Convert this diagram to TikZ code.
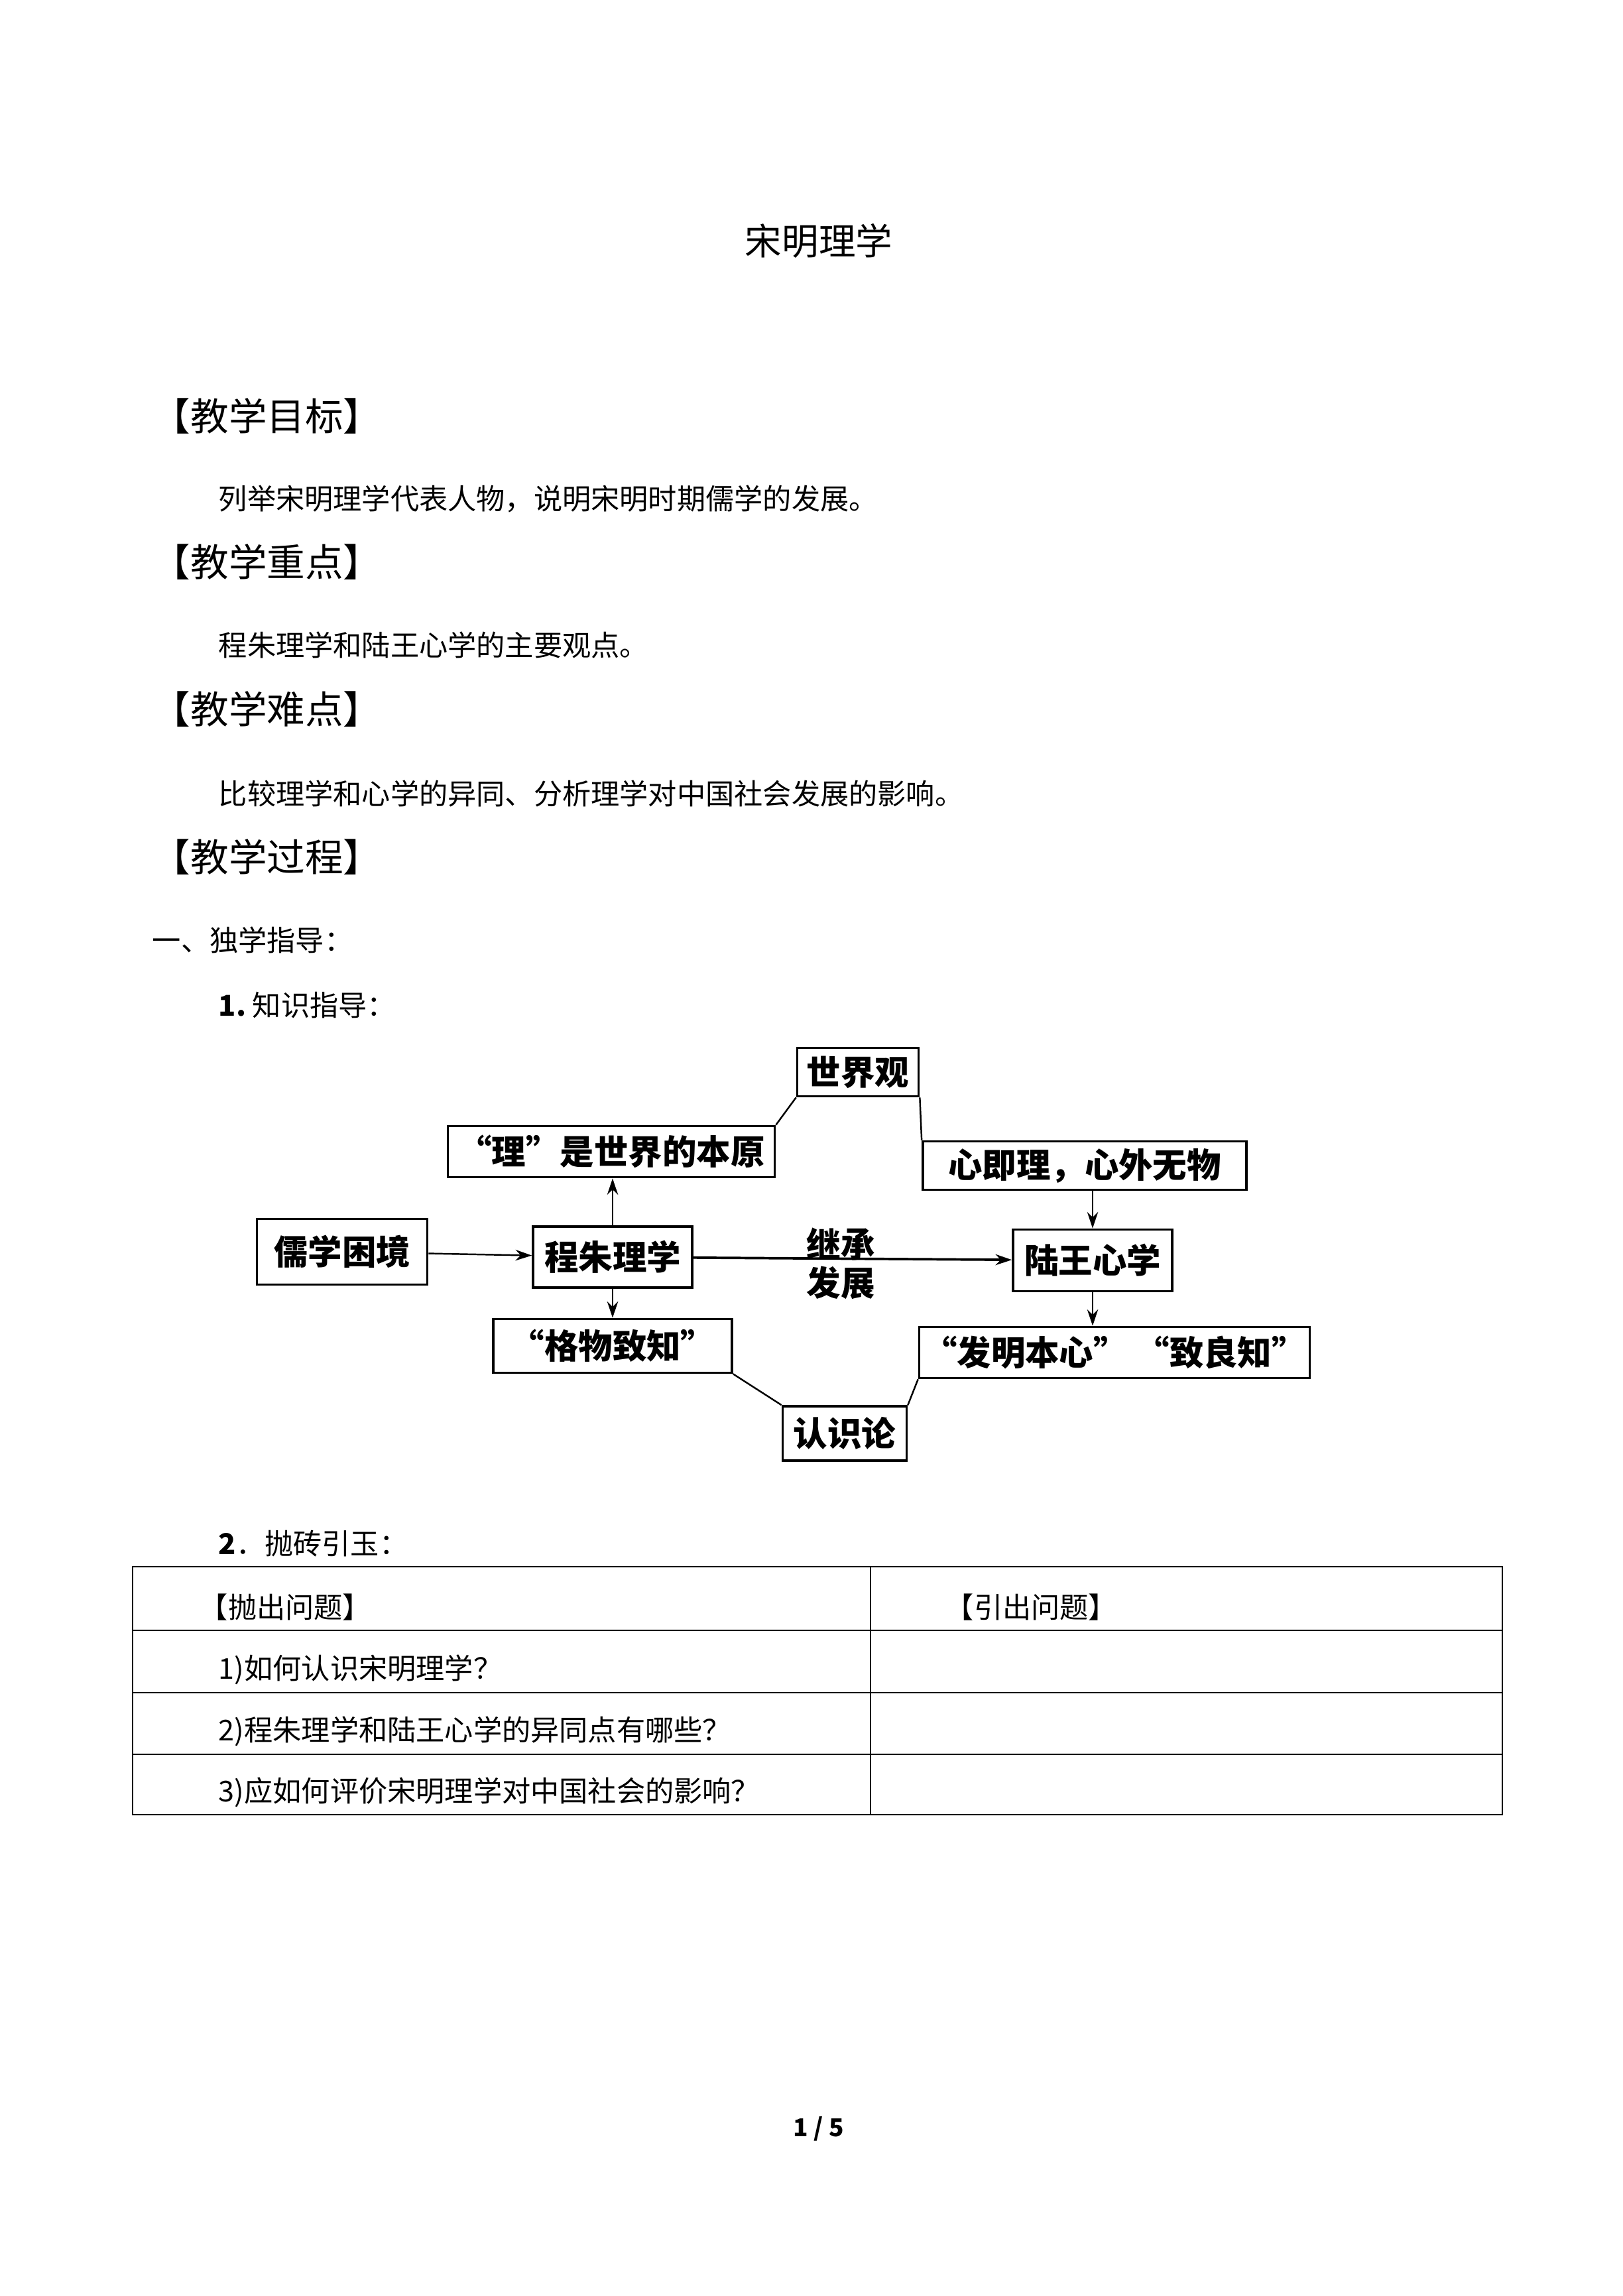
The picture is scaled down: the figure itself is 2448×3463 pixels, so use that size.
\documentclass[tikz,border=0pt]{standalone}
\usepackage{fontspec}
\setmainfont{Noto Sans CJK SC}
\usepackage{tikz}
\usetikzlibrary{arrows.meta}
\def\u{0.243pt}
\begin{document}
\begin{tikzpicture}[x=0.243pt,y=-0.243pt,
  bx/.style={draw,line width=0.9pt,inner sep=0pt,font=\fontsize{12.5}{14}\selectfont\bfseries},
  body/.style={anchor=west,inner sep=0pt,font=\fontsize{10.5}{12}\selectfont},
  head/.style={anchor=west,inner sep=0pt,font=\fontsize{14}{16}\selectfont},
  arr/.style={line width=0.6pt,-{Stealth[length=6pt,width=4pt]}},
  ln/.style={line width=0.6pt}]
\useasboundingbox[fill=white] (0,0) rectangle (2448,3463);
\node[inner sep=0pt,font=\fontsize{13.5}{15}\selectfont] (title) at (1235,363) {宋明理学};
\node[head] (h1) at (229,628) {【教学目标】};
\node[body] (t1) at (329,752) {列举宋明理学代表人物，说明宋明时期儒学的发展。};
\node[head] (h2) at (229,848) {【教学重点】};
\node[body] (t2) at (329,973) {程朱理学和陆王心学的主要观点。};
\node[head] (h3) at (229,1070) {【教学难点】};
\node[body] (t3) at (329,1197) {比较理学和心学的异同、分析理学对中国社会发展的影响。};
\node[head] (h4) at (229,1293) {【教学过程】};
\node[body] (t4) at (229,1418) {一、独学指导：};
\node[body] (t5) at (329,1516) {\textbf{1.}\ 知识指导：};
\node[body] (t6) at (329,2328) {\textbf{2}．抛砖引玉：};
% diagram
\node[bx,minimum width={183*\u},minimum height={73*\u}] (sjg) at (1294,1617) {世界观};
\node[bx,minimum width={493*\u},minimum height={77*\u}] (li) at (922,1737) {“理”是世界的本原};
\node[bx,minimum width={488*\u},minimum height={73*\u}] (xjl) at (1636,1758) {心即理，心外无物};
\node[bx,minimum width={257*\u},minimum height={99*\u}] (rx) at (516,1888) {儒学困境};
\node[bx,minimum width={240*\u},minimum height={92*\u}] (czl) at (924,1896) {程朱理学};
\node[bx,minimum width={240*\u},minimum height={93*\u}] (lwx) at (1648,1901) {陆王心学};
\node[bx,minimum width={360*\u},minimum height={81*\u}] (gw) at (924,2030) {“格物致知”};
\node[bx,minimum width={589*\u},minimum height={77*\u}] (fm) at (1681,2040) {“发明本心”\ “致良知”};
\node[bx,minimum width={187*\u},minimum height={82*\u}] (rsl) at (1274,2162) {认识论};
\node[inner sep=0pt,font=\fontsize{12.5}{14}\selectfont\bfseries] (jc) at (1268,1876) {继承};
\node[inner sep=0pt,font=\fontsize{12.5}{14}\selectfont\bfseries] (fz) at (1268,1935) {发展};
\draw[ln] (sjg.south west) -- (li.north east);
\draw[ln] (sjg.south east) -- (xjl.north west);
\draw[ln] (gw.south east) -- (rsl.north west);
\draw[ln] (fm.south west) -- (rsl.north east);
\draw[arr] (rx) -- (czl);
\draw[arr,line width=0.9pt] (czl) -- (lwx);
\draw[arr] (czl.north) -- (czl.north |- li.south);
\draw[arr] (czl.south) -- (czl.south |- gw.north);
\draw[arr] (lwx.north |- xjl.south) -- (lwx.north);
\draw[arr] (lwx.south) -- (lwx.south |- fm.north);
% table
\draw[line width=0.6pt] (200,2363) rectangle (2266,2737);
\foreach \yy in {2459,2553,2646} \draw[line width=0.6pt] (200,\yy) -- (2266,\yy);
\draw[line width=0.6pt] (1313,2363) -- (1313,2737);
\node[body] (c1) at (300,2424) {【抛出问题】};
\node[body] (c2) at (1425,2424) {【引出问题】};
\node[body] (r1) at (329,2518) {1)如何认识宋明理学？};
\node[body] (r2) at (329,2611) {2)程朱理学和陆王心学的异同点有哪些？};
\node[body] (r3) at (329,2703) {3)应如何评价宋明理学对中国社会的影响？};
\node[inner sep=0pt,font=\fontsize{9}{10}\selectfont\bfseries] (pg) at (1235,3211) {1 / 5};
\end{tikzpicture}
\end{document}
